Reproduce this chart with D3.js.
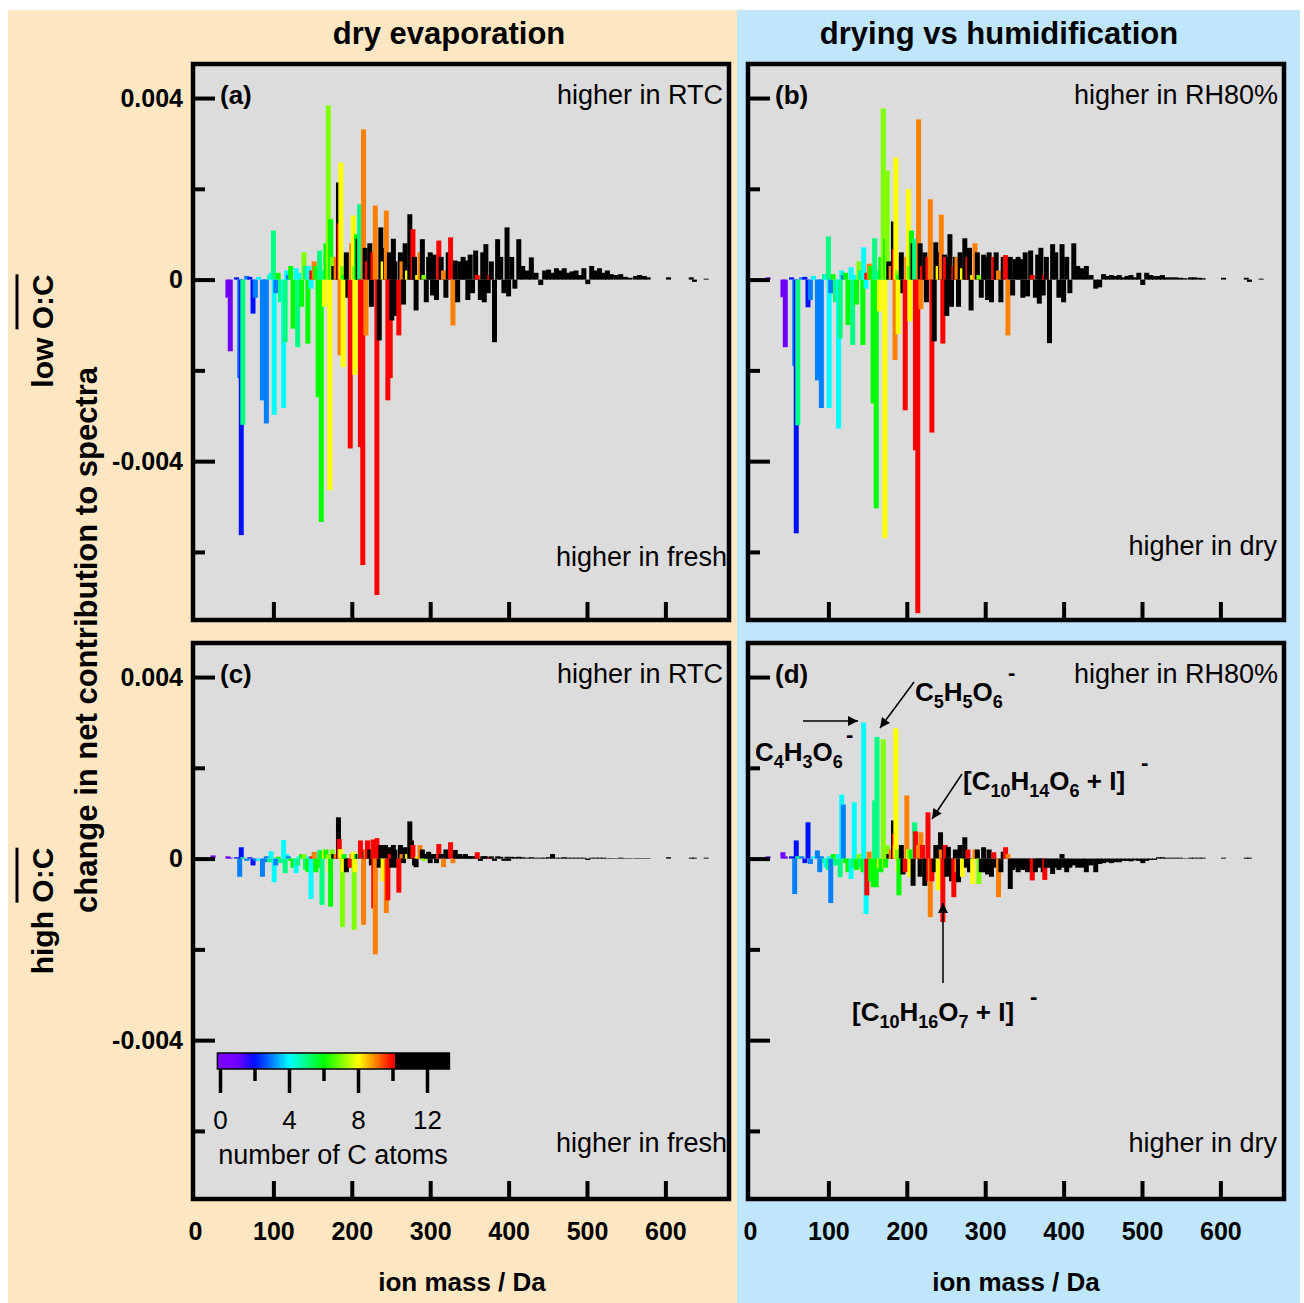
<!DOCTYPE html>
<html>
<head>
<meta charset="utf-8">
<script src="https://cdn.jsdelivr.net/npm/d3@7/dist/d3.min.js"></script>
<style>
  body { margin: 0; background: #fff; }
</style>
</head>
<body>
<div id="chart"></div>
<script>
(function(d3) {

// ion list shared by the four panels (mass in Da, number of C atoms, >10 = black)
var ionMass = [23,42,45,53,57,59,61,66,70,74,77,81,86,89,91,95,97,100,101,103,106,109,113,115,117,119,122,125,129,131,133,136,139,141,144,145,148,149,152,154,157,159,161,162,165,167,170,172,173,175,177,180,183,184,185,186,188,189,190,193,195,198,200,202,203,204,206,208,210,211,214,215,217,218,220,223,225,227,228,230,232,235,237,240,243,244,246,248,249,251,253,255,257,260,262,264,266,268,271,274,276,278,280,282,284,287,290,292,295,298,300,303,305,308,311,314,317,320,323,326,329,332,335,338,342,345,348,351,354,358,360,364,367,369,371,374,376,378,382,386,390,394,398,400,404,408,413,418,424,429,435,441,446,451,456,461,466,471,476,481,486,491,496,501,506,511,516,521,526,531,537,543,549,555,562,567,573,578,604,633,637,652];
var ionCarbon = [1,1,1,2,3,2,5,3,2,2,3,4,3,3,3,5,4,5,4,3,6,5,4,5,4,3,6,6,4,5,4,6,7,5,6,4,4,10,9,6,6,5,6,5,8,6,7,8,6,7,11,9,11,10,9,8,7,8,6,11,11,10,9,8,7,8,6,11,5,10,10,9,11,9,10,11,11,10,10,9,10,11,11,8,11,9,10,11,10,11,11,11,11,10,11,9,11,11,8,11,11,10,11,11,8,9,11,7,11,11,11,11,11,11,10,11,9,11,11,10,9,11,11,11,11,11,11,11,11,11,10,11,11,11,11,11,10,11,11,11,11,11,11,11,11,11,11,11,11,11,11,11,11,11,11,11,11,11,11,11,11,11,11,11,11,11,11,11,11,11,11,11,11,11,11,11,11,11,11,11,11,11];

// change in net contribution (units of 1e-3), one value per ion and panel
// (a) low O:C, dry evaporation
var evapLow = [0,-0.40,-1.58,0.05,-2.17,-5.63,-3.20,0.08,0.06,-0.75,-0.40,0.06,-2.66,-0.30,-3.17,0.10,0.15,1.08,-2.98,-0.30,0.15,-0.50,-2.83,-1.38,0.20,0.10,0.30,-1.08,0.25,-1.49,0.15,-0.60,0.60,0.30,-1.41,0.30,-0.20,0.20,0.40,0.30,-2.59,0.64,-5.34,0.20,-0.60,0.80,3.84,-4.64,1.33,0.50,0.30,0.50,2.14,1.24,-1.67,2.58,0.30,-1.93,0.10,0.60,-0.40,-3.72,0.80,1.41,0.30,-2.10,1.00,0.90,1.66,-3.69,-6.29,3.31,0.70,-1.23,0.40,0.80,-0.60,0.60,0.20,1.63,-6.95,-1.34,1.15,0.40,0.70,1.52,-2.66,0.60,-2.17,-0.90,0.90,0.40,-0.80,-1.23,0.60,0.40,-0.55,0.80,0.20,1.44,0.70,1.11,0.50,-0.68,0.10,0.60,0.89,0.10,-0.50,0.50,0.60,-0.35,0.55,-0.45,0.86,0.50,0.20,-0.40,0.60,0.93,-1.01,0.42,-0.50,0.40,0.50,0.42,-0.45,0.55,-0.30,0.64,0.10,-0.45,0.60,-0.50,0.78,-0.30,0.10,0.40,-1.38,0.89,0.50,-0.30,1.15,-0.37,0.50,-0.20,0.89,0.30,0.20,0.49,0.15,-0.12,0.20,0.22,0.15,0.25,0.20,0.25,0.15,0.18,0.20,0.10,0.25,-0.10,0.30,0.20,0.25,0.15,0.20,0.12,0.10,0.12,0.06,0.04,0.08,0.10,0.08,0.05,0.05,0.05,-0.05,0.02];
// (b) low O:C, drying vs humidification
var humLow = [0.05,-0.39,-1.49,0.05,-1.90,-5.59,-3.21,0.05,0.06,-0.61,-0.45,0.08,-2.22,-0.30,-2.83,0.12,0.10,0.95,-2.83,-0.30,0.12,-0.50,-3.28,-1.30,0.20,0.10,0.15,-1.00,0.27,-1.44,0.10,-0.55,0.40,0.20,-1.44,0.71,-0.20,0.15,0.35,0.30,-2.73,0.91,-5.04,0.20,-0.70,0.50,3.77,-5.70,0.90,2.40,0.40,0.30,1.28,0.67,-1.77,2.69,0.20,-1.20,0.10,0.60,-0.30,-2.88,0.50,2.00,0.30,-0.92,1.08,0.80,0.90,-3.76,-7.35,3.53,0.80,-0.65,0.30,0.60,-0.50,0.50,0.20,1.77,-3.37,-1.36,0.82,0.30,0.60,1.43,-1.41,0.55,0.50,-0.80,0.50,1.00,-0.60,0.30,0.50,0.50,-0.60,0.60,0.25,0.91,0.50,0.50,0.70,-0.68,0.10,0.80,0.60,0.10,-0.40,0.55,0.50,-0.45,0.60,-0.50,0.50,0.60,0.20,-0.50,0.50,0.54,-1.23,0.50,-0.35,0.45,0.50,0.45,-0.40,0.60,-0.37,0.64,0.10,-0.40,0.55,-0.53,0.70,-0.35,0.10,0.50,-1.40,0.78,0.60,-0.40,0.78,-0.50,0.50,-0.30,0.80,0.30,0.25,0.30,0.10,-0.20,-0.17,0.12,0.08,0.10,0.08,0.10,0.05,0.08,0.10,0.05,0.15,-0.12,0.15,0.10,0.08,0.08,0.10,0.05,0.05,0.05,0.04,0.03,0.05,0.05,0.04,0.03,0.04,0.04,-0.05,0.02];
// (c) high O:C, dry evaporation
var evapHigh = [0.07,0.05,0.02,0.03,-0.40,0.25,0.03,-0.05,0.03,-0.15,-0.05,-0.04,-0.40,-0.08,0.05,-0.08,0.16,-0.08,-0.52,-0.15,0.04,-0.10,0.41,-0.32,0.10,0.05,-0.05,-0.20,-0.32,-0.15,0.05,0.10,0.10,-0.25,-0.30,0.05,-0.89,0.05,0.15,-0.30,-0.20,0.19,0.15,-1.02,0.20,0.20,0.10,-0.30,-1.06,0.20,0.10,0.10,0.91,0.43,0.20,0.21,-1.51,-0.30,0.10,-0.30,-0.20,-0.20,0.10,0.15,-1.57,-0.30,0.10,0.10,0.10,0.40,0.20,-1.46,0.15,0.20,0.40,0.20,-0.15,0.42,-1.10,-2.11,0.45,-0.20,0.30,-0.50,0.30,-1.20,-0.92,0.25,0.10,-0.20,0.30,0.20,-0.20,-0.75,0.30,0.10,-0.10,0.25,0.10,0.82,0.40,0.30,-0.15,-0.19,0.05,0.30,0.20,-0.05,0.10,0.15,-0.10,0.10,0.10,-0.10,0.32,0.10,-0.19,0.20,0.10,0.36,-0.10,0.19,0.05,0.10,0.05,0.10,0.05,0.05,0.05,0.05,0.14,-0.05,0.05,0.05,0.05,0.03,0.03,0.05,-0.05,0.05,0.04,-0.05,0.04,-0.05,0.04,0.03,0.04,0.03,0.02,0.03,0.02,0.02,0.02,0.03,0.10,0.02,0.02,0.03,0.02,0.02,0.02,0.02,0.02,-0.03,0.02,0.02,0.02,0.02,0.01,0.01,0.01,0.02,0.01,0.01,0.01,0.01,0.01,0.01,0.03,0.02,0.02,0.02];
// (d) high O:C, drying vs humidification
var humHigh = [0.05,0.14,0.05,0.05,-0.78,0.40,0.05,0.05,-0.10,0.80,-0.12,0.05,0.18,-0.30,0.05,-0.10,-0.20,-0.25,0.05,-0.98,0.10,-0.15,0.10,-0.41,1.41,1.19,-0.10,-0.30,-0.45,-0.20,1.24,-0.25,0.10,-0.20,-0.30,3.00,-1.22,-0.81,0.15,-0.50,-0.63,1.28,-0.63,2.68,-0.20,-0.30,2.63,-0.20,-0.20,0.30,0.10,0.20,0.84,0.54,0.30,2.87,0.20,-0.30,-0.81,0.30,-0.35,-0.30,1.39,0.20,0.20,-0.40,0.20,-0.60,0.80,0.60,0.30,0.30,-0.40,0.58,0.30,-0.60,-0.45,1.02,-0.50,-1.29,-0.50,-0.30,0.30,-0.70,0.58,0.20,-1.40,0.30,0.30,-0.40,0.26,-0.20,-0.50,-0.85,0.20,-0.30,-0.52,0.30,-0.40,0.47,-0.20,0.20,-0.30,-0.30,-0.56,0.20,0.20,-0.56,-0.30,0.25,-0.30,-0.35,0.20,-0.40,0.14,-0.20,-0.85,-0.30,0.15,0.25,0.10,-0.67,-0.25,-0.20,-0.30,-0.20,-0.25,-0.15,-0.30,-0.20,-0.48,-0.30,-0.15,-0.20,-0.10,-0.30,-0.47,-0.20,-0.20,-0.34,-0.20,-0.25,0.10,-0.20,-0.30,-0.20,-0.15,-0.20,-0.20,-0.30,-0.15,-0.30,-0.12,-0.10,-0.08,-0.10,-0.08,-0.08,-0.05,-0.05,-0.06,-0.04,-0.05,-0.10,-0.05,-0.03,-0.03,0.03,0.03,0.02,0.02,0.02,0.02,0.01,0.02,0.02,0.02,0.02,0.02,0.02,0.02];

var xTicks = [100, 200, 300, 400, 500, 600];
var xTickLabels = [0, 100, 200, 300, 400, 500, 600];
var yTicks = [-4, 0, 4];
var yMinorTicks = [-6, -2, 2];
var cbarTicks = [0, 4, 8, 12];
var cbarMinorTicks = [2, 6, 10];

var W = 1304, H = 1303;
var frameW = 536, frameH = 556;
var barW = 5;
var font = "'Liberation Sans', Arial, Helvetica, sans-serif";

var rainbow = d3.scaleLinear()
    .domain([0, 1, 2, 3, 4, 5, 6, 7, 8, 9, 10])
    .range(["#8000ff", "#7000ff", "#0010ff", "#0080ff", "#00ffff", "#00ff80",
            "#00ff00", "#80ff00", "#ffff00", "#ff8000", "#ff0000"])
    .clamp(true);
function carbonColor(c) { return c > 10.1 ? "#000" : rainbow(c); }

var svg = d3.select("#chart").append("svg")
    .attr("width", W).attr("height", H)
    .style("font-family", font);

// background halves
svg.append("rect").attr("width", W).attr("height", H).attr("fill", "#fff");
svg.append("rect").attr("x", 8).attr("y", 10).attr("width", 729).attr("height", H - 10).attr("fill", "#fde7c3");
svg.append("rect").attr("x", 737).attr("y", 10).attr("width", 563).attr("height", H - 10).attr("fill", "#bfe6fa");

var defs = svg.append("defs");
defs.append("marker").attr("id", "arrow")
    .attr("viewBox", "0 0 10 10").attr("refX", 10).attr("refY", 5)
    .attr("markerUnits", "userSpaceOnUse")
    .attr("markerWidth", 13).attr("markerHeight", 10)
    .attr("orient", "auto")
  .append("path").attr("d", "M0,0 L10,5 L0,10 Z").attr("fill", "#000");

var panels = [
  { id: "a", vals: evapLow,  left: 193, top: 64,  top_txt: "higher in RTC",   bot_txt: "higher in fresh", botY: 566,  botX: 727, yLabels: true,  xLabels: false },
  { id: "b", vals: humLow,   left: 748, top: 64,  top_txt: "higher in RH80%", bot_txt: "higher in dry",   botY: 555,  botX: 1277, yLabels: false, xLabels: false },
  { id: "c", vals: evapHigh, left: 193, top: 643, top_txt: "higher in RTC",   bot_txt: "higher in fresh", botY: 1152, botX: 727, yLabels: true,  xLabels: true },
  { id: "d", vals: humHigh,  left: 748, top: 643, top_txt: "higher in RH80%", bot_txt: "higher in dry",   botY: 1152, botX: 1277, yLabels: false, xLabels: true }
];

panels.forEach(function(p) {
  var x = d3.scaleLinear().domain([0, 680]).range([p.left + 2, p.left + 2 + 0.784 * 680]);
  var y = d3.scaleLinear().domain([-7.5, 4.75]).range([p.top + frameH, p.top]);
  var g = svg.append("g");

  g.append("rect").attr("x", p.left).attr("y", p.top)
      .attr("width", frameW).attr("height", frameH).attr("fill", "#dcdcdc");

  var clipId = "clip-" + p.id;
  defs.append("clipPath").attr("id", clipId)
    .append("rect").attr("x", p.left).attr("y", p.top).attr("width", frameW).attr("height", frameH);

  var data = ionMass.map(function(m, i) {
    return { m: m, c: ionCarbon[i], v: p.vals[i] };
  }).filter(function(d) { return d.v !== 0; });

  g.append("g").attr("clip-path", "url(#" + clipId + ")")
    .selectAll("rect")
    .data(data)
    .enter()
    .append("rect")
      .attr("x", function(d) { return x(d.m) - barW / 2; })
      .attr("width", barW)
      .attr("y", function(d) { return y(Math.max(0, d.v)); })
      .attr("height", function(d) { return Math.abs(y(d.v) - y(0)); })
      .attr("fill", function(d) { return carbonColor(d.c); });

  // frame
  g.append("rect").attr("x", p.left).attr("y", p.top)
      .attr("width", frameW).attr("height", frameH)
      .attr("fill", "none").attr("stroke", "#000").attr("stroke-width", 4.5);

  // y ticks (inward), labels only on the left column
  var yAxis = d3.axisLeft(y).tickValues(yTicks).tickSize(-22).tickPadding(10)
      .tickFormat(function(d) { return d === 0 ? "0" : String(d / 1000); });
  var ya = g.append("g").attr("transform", "translate(" + p.left + ",0)").call(yAxis);
  ya.select(".domain").remove();
  ya.selectAll("line").attr("stroke-width", 4);
  ya.selectAll("text").attr("font-size", 25).attr("font-weight", "bold")
      .attr("font-family", font).attr("fill", "#000")
      .style("display", p.yLabels ? null : "none");

  var yMinor = d3.axisLeft(y).tickValues(yMinorTicks).tickSize(-12).tickFormat("");
  var ym = g.append("g").attr("transform", "translate(" + p.left + ",0)").call(yMinor);
  ym.select(".domain").remove();
  ym.selectAll("line").attr("stroke-width", 4);

  // x ticks (inward from the bottom frame)
  var xAxis = d3.axisBottom(x).tickValues(xTicks).tickSize(-18).tickFormat("");
  var xa = g.append("g").attr("transform", "translate(0," + (p.top + frameH) + ")").call(xAxis);
  xa.select(".domain").remove();
  xa.selectAll("line").attr("stroke-width", 4);

  if (p.xLabels) {
    var xLab = d3.axisBottom(x).tickValues(xTickLabels).tickSize(0).tickPadding(23);
    var xl = g.append("g").attr("transform", "translate(0," + (p.top + frameH) + ")").call(xLab);
    xl.select(".domain").remove();
    xl.selectAll("text").attr("font-size", 25).attr("font-weight", "bold")
        .attr("font-family", font).attr("fill", "#000");
  }

  g.append("text").attr("x", p.left + 27).attr("y", p.top + 40)
      .attr("font-size", 26).attr("font-weight", "bold").text("(" + p.id + ")");
  g.append("text").attr("x", p.left + 530).attr("y", p.top + 40)
      .attr("font-size", 27).attr("text-anchor", "end").text(p.top_txt);
  g.append("text").attr("x", p.botX).attr("y", p.botY)
      .attr("font-size", 27).attr("text-anchor", "end").text(p.bot_txt);
});

// column titles
svg.append("text").attr("x", 449).attr("y", 44).attr("text-anchor", "middle")
    .attr("font-size", 31).attr("font-weight", "bold").text("dry evaporation");
svg.append("text").attr("x", 999).attr("y", 44).attr("text-anchor", "middle")
    .attr("font-size", 31).attr("font-weight", "bold").text("drying vs humidification");

// x titles
[462, 1016].forEach(function(cx) {
  svg.append("text").attr("x", cx).attr("y", 1291).attr("text-anchor", "middle")
      .attr("font-size", 26).attr("font-weight", "bold").text("ion mass / Da");
});

// y title
svg.append("text").attr("transform", "translate(97,640) rotate(-90)")
    .attr("text-anchor", "middle").attr("font-size", 31).attr("font-weight", "bold")
    .text("change in net contribution to spectra");

// row labels with overlined O:C
function rowLabel(cy, word) {
  var t = svg.append("g").attr("transform", "translate(53," + cy + ") rotate(-90)");
  var txt = t.append("text").attr("text-anchor", "middle")
      .attr("font-size", 30).attr("font-weight", "bold").text(word + " O:C");
  var node = txt.node();
  var total = node.getComputedTextLength();
  var pre = node.getSubStringLength(0, word.length + 1);
  var x0 = -total / 2 + pre;
  t.append("line").attr("x1", x0).attr("x2", total / 2)
      .attr("y1", -36).attr("y2", -36)
      .attr("stroke", "#000").attr("stroke-width", 3);
}
rowLabel(331, "low");
rowLabel(911, "high");

// colour bar for the number of C atoms
var cx = d3.scaleLinear().domain([0, 12]).range([220, 427]);
var cbar = svg.append("g");
var steps = d3.range(-0.15, 13.3, 0.05);
cbar.selectAll("rect").data(steps).enter().append("rect")
    .attr("x", function(d) { return cx(d); })
    .attr("width", function(d) { return Math.min(cx(d + 0.1), cx(13.3)) - cx(d); })
    .attr("y", 1053).attr("height", 16)
    .attr("fill", function(d) { return carbonColor(d); })
    .attr("shape-rendering", "crispEdges");
cbar.append("rect").attr("x", cx(-0.15)).attr("y", 1053)
    .attr("width", cx(13.3) - cx(-0.15)).attr("height", 16)
    .attr("fill", "none").attr("stroke", "#000").attr("stroke-width", 1.5);
var cAxis = d3.axisBottom(cx).tickValues(cbarTicks).tickSize(24).tickPadding(18);
var ca = cbar.append("g").attr("transform", "translate(0,1069)").call(cAxis);
ca.select(".domain").remove();
ca.selectAll("line").attr("stroke-width", 3.5);
ca.selectAll("text").attr("font-size", 26).attr("font-family", font).attr("fill", "#000");
var cMinor = d3.axisBottom(cx).tickValues(cbarMinorTicks).tickSize(12).tickFormat("");
var cm = cbar.append("g").attr("transform", "translate(0,1069)").call(cMinor);
cm.select(".domain").remove();
cm.selectAll("line").attr("stroke-width", 3.5);
cbar.append("text").attr("x", 333).attr("y", 1164).attr("text-anchor", "middle")
    .attr("font-size", 27).text("number of C atoms");

// formula annotations in panel (d)
function chem(x, y, parts) {
  var t = svg.append("text").attr("x", x).attr("y", y)
      .attr("font-size", 26).attr("font-weight", "bold");
  var shift = 0;
  parts.forEach(function(pt) {
    var s = t.append("tspan").text(pt[0]);
    if (pt[1]) {
      s.attr("font-size", 18).attr("dy", 7 - shift);
      shift = 7;
    } else {
      s.attr("dy", -shift);
      shift = 0;
    }
  });
  return t;
}
function minus(x, y) {
  svg.append("text").attr("x", x).attr("y", y).attr("font-size", 22)
      .attr("font-weight", "bold").text("-");
}
function arrow(x1, y1, x2, y2) {
  svg.append("line").attr("x1", x1).attr("y1", y1).attr("x2", x2).attr("y2", y2)
      .attr("stroke", "#000").attr("stroke-width", 1.5).attr("marker-end", "url(#arrow)");
}

chem(915, 701, [["C",0],["5",1],["H",0],["5",1],["O",0],["6",1]]);
minus(1008, 680);
arrow(914, 682, 880, 728);

chem(755, 761, [["C",0],["4",1],["H",0],["3",1],["O",0],["6",1]]);
minus(846, 742);
arrow(803, 721, 858, 721);

chem(963, 790, [["[C",0],["10",1],["H",0],["14",1],["O",0],["6",1],[" + I]",0]]);
minus(1141, 770);
arrow(962, 774, 932, 819);

chem(852, 1021, [["[C",0],["10",1],["H",0],["16",1],["O",0],["7",1],[" + I]",0]]);
minus(1030, 1004);
arrow(943, 983, 943, 903);

})(window.d3);
</script>
</body>
</html>
